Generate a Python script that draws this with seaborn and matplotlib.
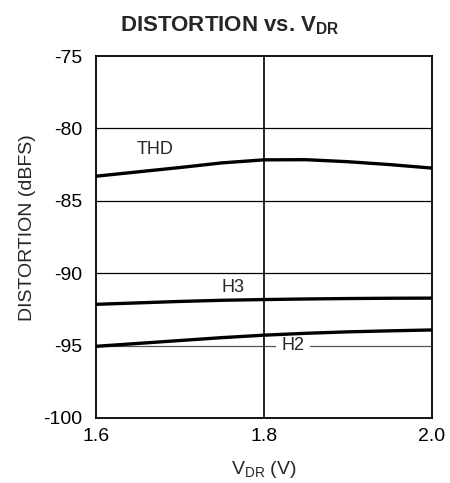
import matplotlib
matplotlib.use("Agg")
import matplotlib.pyplot as plt
import seaborn as sns
import pandas as pd

vdr = [1.6, 1.65, 1.7, 1.75, 1.8, 1.85, 1.9, 1.95, 2.0]
thd = [-83.3, -83.0, -82.7, -82.38, -82.17, -82.16, -82.3, -82.5, -82.74]
h3 = [-92.15, -92.05, -91.95, -91.87, -91.82, -91.78, -91.75, -91.73, -91.72]
h2 = [-95.05, -94.85, -94.65, -94.45, -94.28, -94.15, -94.05, -93.98, -93.92]

sns.set_theme(style="white")
plt.rcParams['font.family'] = ['Liberation Sans', 'DejaVu Sans']

df = pd.DataFrame({
    "vdr": vdr * 3,
    "val": thd + h3 + h2,
    "series": ["THD"] * len(vdr) + ["H3"] * len(vdr) + ["H2"] * len(vdr),
})

fig = plt.figure(figsize=(4.5, 4.83), dpi=100)
ax = fig.add_axes([0.2133, 0.1346, 0.7467, 0.7494])
sns.lineplot(data=df, x="vdr", y="val", units="series", estimator=None,
             color="black", linewidth=2.4, ax=ax, legend=False, zorder=3)

ax.set_xlim(1.6, 2.0)
ax.set_ylim(-100, -75)
ax.set_xticks([1.6, 1.8, 2.0])
ax.set_xticklabels(["1.6", "1.8", "2.0"])
ax.set_yticks([-100, -95, -90, -85, -80, -75])
ax.set_yticklabels(["-100", "-95", "-90", "-85", "-80", "-75"])
ax.tick_params(axis='both', labelsize=14, length=0, colors='black')
ax.tick_params(axis='x', pad=7)
ax.tick_params(axis='y', pad=10)
for y in [-90, -85, -80]:
    ax.axhline(y, color='black', lw=0.9, zorder=1)
ax.axhline(-95, color='#555555', lw=0.9, zorder=1)
ax.axvline(1.8, color='black', lw=1.2, zorder=1)
for s in ax.spines.values():
    s.set_color('black')
    s.set_linewidth(1.3)

ax.set_xlabel("V$_{\\mathregular{DR}}$ (V)", fontsize=14, labelpad=10)
ax.set_ylabel("DISTORTION (dBFS)", fontsize=14)
ax.yaxis.set_label_coords(-0.178, 0.526)
fig.text(0.511, 0.946, "DISTORTION vs. V$_{\\mathregular{DR}}$", fontsize=16,
         fontweight='bold', ha='center', va='center')

ax.text(1.67, -81.45, "THD", fontsize=13, ha='center', va='center')
ax.text(1.763, -90.97, "H3", fontsize=13, ha='center', va='center')
ax.text(1.835, -95.0, "H2", fontsize=13, ha='center', va='center',
        bbox=dict(facecolor='white', edgecolor='none', pad=4), zorder=2)

fig.savefig("out.png", dpi=100)
